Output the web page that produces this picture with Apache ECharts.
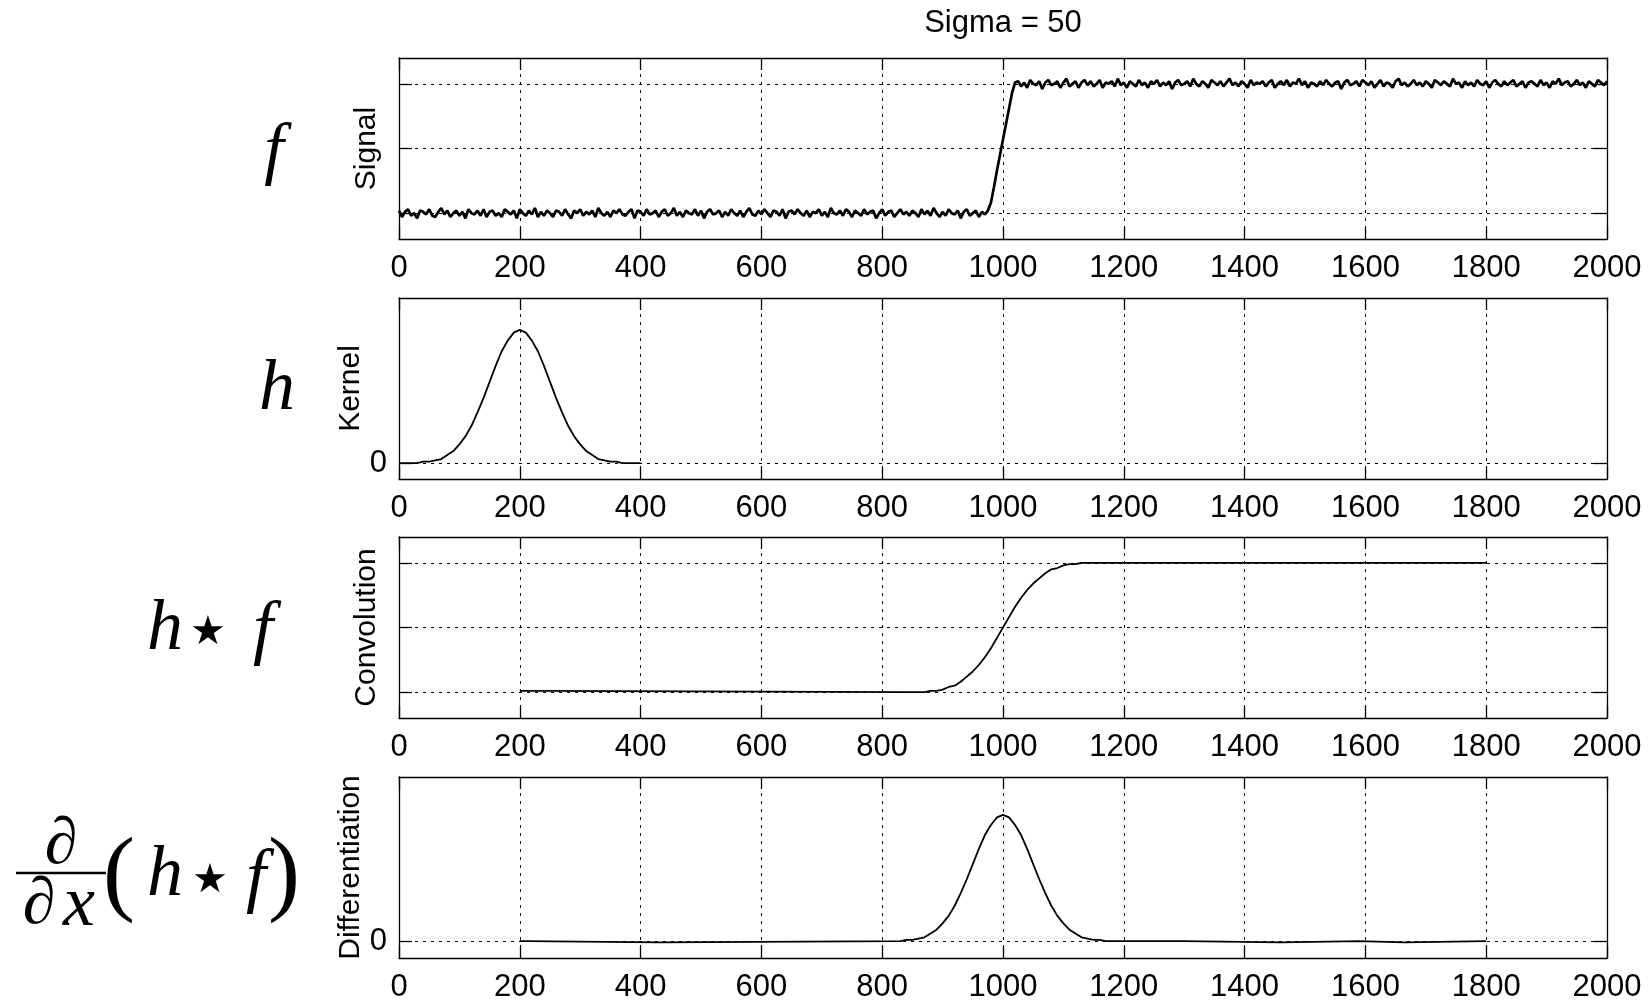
<!DOCTYPE html>
<html><head><meta charset="utf-8">
<script src="https://cdn.jsdelivr.net/npm/echarts@6/dist/echarts.min.js"></script>
<style>html,body{margin:0;padding:0;background:#fff}#c{width:1651px;height:1000px}</style>
</head><body><div id="c"></div>
<script>
// ---------------- data ----------------
const xTickLabels = [0,200,400,600,800,1000,1200,1400,1600,1800,2000];
const titleText = 'Sigma = 50';
const yNames = ['Signal','Kernel','Convolution','Differentiation'];
const yTickValues = [[0,0.5,1],[0],[0,0.5,1],[0]];
const yLabelValues = [[],[0],[],[0]];
const yRanges = [[-0.2,1.2],[-0.12,1.24],[-0.2,1.2],[-0.134,1.30]];

// noisy step signal, one sample every 5 units from 0 to 2000
const signalStep = 5;
const signalLow = [
0.02,-0.03,0.01,0.03,-0.02,0.00,-0.04,0.02,0.01,-0.01,
0.03,-0.02,-0.03,0.01,0.04,-0.01,0.02,-0.03,0.00,0.02,
-0.02,0.01,-0.04,0.03,0.00,-0.01,0.02,-0.02,0.03,-0.03,
0.01,0.02,-0.02,0.00,-0.03,0.03,0.01,-0.01,0.02,-0.04,
0.03,0.00,-0.02,0.02,-0.01,0.04,-0.03,0.01,-0.02,0.02,
0.00,-0.03,0.02,0.01,-0.02,0.03,-0.01,-0.04,0.02,0.00,
0.03,-0.02,0.01,-0.01,0.02,-0.03,0.04,0.00,-0.02,0.01,
-0.03,0.02,0.00,0.03,-0.01,-0.02,0.01,0.03,-0.04,0.02,
0.01,-0.02,0.03,-0.01,0.00,0.02,-0.03,0.01,0.03,-0.02,
0.00,0.04,-0.02,0.01,-0.03,0.02,0.00,-0.01,0.03,-0.02,
0.02,-0.04,0.01,0.03,-0.01,0.00,0.02,-0.03,0.01,-0.02,
0.03,0.00,-0.02,0.02,-0.03,0.01,0.04,-0.01,-0.02,0.02,
-0.01,0.03,0.00,-0.03,0.02,0.01,-0.02,0.03,-0.04,0.01,
0.02,-0.01,0.03,0.00,-0.02,0.02,-0.03,0.01,0.00,0.03,
-0.02,0.01,-0.03,0.04,0.00,-0.01,0.02,-0.02,0.03,0.01,
-0.03,0.02,0.00,-0.02,0.03,-0.01,0.01,0.02,-0.04,0.00,
0.03,-0.02,0.01,0.02,-0.03,0.00,0.03,-0.01,0.01,-0.02,
0.02,0.00,-0.03,0.03,-0.01,0.02,-0.02,0.04,0.00,-0.03,
0.01,-0.02,0.03,0.00,-0.01,0.02,-0.04,0.01,0.03,-0.02,
0.00,0.02,-0.03,0.01,-0.01,0.02];
const signalRamp = [0.08,0.20,0.33,0.45,0.57,0.69,0.81,0.93,1.01];
const signalHigh = [
1.02,0.98,1.01,0.97,1.03,1.00,0.99,1.02,0.96,1.01,
1.03,0.99,1.00,1.02,0.97,1.01,1.04,0.98,1.00,1.02,
0.97,1.01,1.03,0.99,1.02,0.98,1.00,1.03,0.97,1.01,
1.00,1.02,0.98,1.04,0.99,1.01,0.97,1.02,1.00,0.98,
1.03,0.99,1.01,0.97,1.02,1.00,1.03,0.98,1.01,0.99,
1.02,0.96,1.01,1.03,0.99,1.00,1.02,0.98,1.04,1.00,
0.98,1.02,1.00,0.97,1.03,1.01,0.99,1.02,0.98,1.01,
1.04,0.99,1.01,0.98,1.02,1.00,0.97,1.03,0.99,1.01,
1.00,1.02,0.98,1.01,1.03,0.97,1.00,1.02,0.99,1.03,
0.98,1.01,1.00,1.04,0.99,1.02,0.97,1.01,1.00,0.98,
1.02,0.99,1.03,1.00,0.98,1.01,1.02,0.96,1.01,1.03,
0.99,1.00,1.02,0.98,1.03,1.01,0.99,1.02,0.97,1.00,
1.03,0.98,1.01,1.00,0.97,1.02,1.04,0.99,1.01,0.98,
1.00,1.03,0.99,1.01,0.98,1.02,1.00,0.97,1.03,1.01,
0.99,1.02,1.00,0.98,1.04,1.00,1.01,0.97,1.02,0.99,
1.01,0.98,1.03,1.00,0.99,1.02,0.97,1.01,1.03,1.00,
0.98,1.02,0.99,1.01,1.03,0.98,1.00,1.02,0.97,1.01,
1.02,1.00,0.98,1.03,0.99,1.01,0.97,1.02,1.00,1.04,
0.99,1.01,1.02,0.98,1.00,1.03,0.99,1.01,0.97,1.02,
1.00,0.98,1.03,1.01,0.99,1.02];

// Gaussian kernel, one sample every 10 units from 0 to 400
const kernelStep = 10;
const kernelVals = [0.00,0.00,0.00,0.00,0.01,0.01,0.02,0.03,0.06,0.09,
0.14,0.20,0.28,0.38,0.49,0.61,0.73,0.84,0.92,0.98,1.00,0.98,0.92,0.84,0.73,
0.61,0.49,0.38,0.28,0.20,0.14,0.09,0.06,0.03,0.02,0.01,0.01,0.00,0.00,0.00,0.00];

// convolution
const convX = [200,250,250,840,850,860,870,880,890,900,910,920,930,940,950,960,970,980,990,1000,
  1010,1020,1030,1040,1050,1060,1070,1080,1090,1100,1110,1120,1130,1140,1800];
const convY = [0.01,0.01,0.00,0.00,0.00,0.00,0.00,0.01,0.01,0.02,0.04,0.05,0.08,0.12,0.16,0.21,0.27,0.34,0.42,0.50,
  0.58,0.66,0.73,0.79,0.84,0.88,0.92,0.95,0.96,0.98,0.99,0.99,1.00,1.00,1.00];

// differentiation
const diffX = [200,212,212,430,430,830,840,850,860,870,880,890,900,910,920,930,940,950,960,970,980,990,1000,
  1010,1020,1030,1040,1050,1060,1070,1080,1090,1100,1110,1120,1130,1140,1150,1160,1170,1300,1300,1460,1460,1590,1590,1665,1665,1800];
const diffY = [0,0,-0.01,-0.01,0,0,0.01,0.01,0.02,0.03,0.06,0.09,0.14,0.20,0.28,0.38,0.49,0.61,0.73,0.84,0.92,0.98,1.00,
  0.98,0.92,0.84,0.73,0.61,0.49,0.38,0.28,0.20,0.14,0.09,0.06,0.03,0.02,0.01,0.01,0,0,-0.01,-0.01,0,0,-0.01,-0.01,0,0];

// ---------------- chart ----------------
const sigData = signalLow.concat(signalRamp, signalHigh).map((v,i)=>[i*signalStep, v]);
const kerData = kernelVals.map((v,i)=>[i*kernelStep, v]);
const convData = convX.map((x,i)=>[x, convY[i]]);
const diffData = diffX.map((x,i)=>[x, diffY[i]]);
const seriesData = [sigData, kerData, convData, diffData];

const SANS = "'Liberation Sans', Arial, Helvetica, sans-serif";
const SERIF = "'Liberation Serif', 'Times New Roman', serif";
const tops = [58, 298, 537, 777];
const nameGaps = [17, 33, 17, 33];
const dotted = {color:'#000', width:1, type:[3,5]};
const axLine = {show:true, onZero:false, lineStyle:{color:'#000', width:1.3}};
const tickStyle = {color:'#000', width:1.3};

const grid = [], xAxis = [], yAxis = [], series = [];
tops.forEach((t,i)=>{
  grid.push({left:399, top:t, width:1208, height:181, containLabel:false, outerBoundsMode:'none'});
  const xBase = {gridIndex:i, type:'value', min:xTickLabels[0], max:xTickLabels[xTickLabels.length-1], interval:200,
    axisLine:axLine, axisTick:{show:true, inside:true, length:12, lineStyle:tickStyle}};
  xAxis.push(Object.assign({}, xBase, {position:'bottom',
    axisLabel:{show:true, customValues:xTickLabels, formatter:(v)=>String(v), color:'#000', fontSize:31, fontFamily:SANS, margin:14},
    splitLine:{show:true, lineStyle:dotted}}));
  xAxis.push(Object.assign({}, xBase, {position:'top', axisLabel:{show:false}, splitLine:{show:false}}));
  const yBase = {gridIndex:i, type:'value', min:yRanges[i][0], max:yRanges[i][1], axisLine:axLine,
    axisTick:{show:true, inside:true, length:13, lineStyle:tickStyle, customValues:yTickValues[i]}};
  yAxis.push(Object.assign({}, yBase, {position:'left', name:yNames[i], nameLocation:'middle', nameRotate:90, nameGap:nameGaps[i],
    nameMoveOverlap:false,
    nameTextStyle:{color:'#000', fontSize:30, fontFamily:SANS},
    axisLabel:{show:yLabelValues[i].length>0, customValues:yLabelValues[i], formatter:(v)=>String(v), color:'#000', fontSize:31, fontFamily:SANS, margin:12},
    splitLine:{show:true, lineStyle:dotted}}));
  yAxis.push(Object.assign({}, yBase, {position:'right', axisLabel:{show:false}, splitLine:{show:false}}));
  series.push({type:'line', xAxisIndex:2*i, yAxisIndex:2*i, data:seriesData[i], symbol:'none', silent:true,
    lineStyle:{color:'#000', width: i===0 ? 2.7 : 1.8}, z:5});
});

const M = (sz) => 'italic ' + sz + 'px ' + SERIF;
const STAR = '40px "DejaVu Sans"';
function t(txt, x, y, font) {
  return {type:'text', x:x, y:y, style:{text:txt, fill:'#000', font:font, align:'center', verticalAlign:'middle'}};
}
const graphic = [
  {type:'text', x:1003, y:23, style:{text:titleText, fill:'#000', font:'31px ' + SANS, align:'center', verticalAlign:'middle'}},
  t('f', 274, 153, M(70)),
  t('h', 277, 390, M(72)),
  t('h', 165, 630, M(72)),
  t('\u2605', 208, 634, STAR),
  t('f', 263, 632, M(72)),
  t('\u2202', 61, 846, M(66)),
  {type:'line', shape:{x1:16, y1:873, x2:106, y2:873}, style:{stroke:'#000', lineWidth:2.5}},
  t('\u2202', 39, 906, M(66)),
  t('x', 79, 906, M(72)),
  t('(', 119, 878, '96px ' + SERIF),
  t('h', 165, 876, M(72)),
  t('\u2605', 210, 882, STAR),
  t('f', 256, 880, M(72)),
  t(')', 284, 878, '96px ' + SERIF)
];

const chart = echarts.init(document.getElementById('c'), null, {renderer:'canvas'});
chart.setOption({animation:false, backgroundColor:'#fff', grid, xAxis, yAxis, series, graphic});
</script></body></html>
